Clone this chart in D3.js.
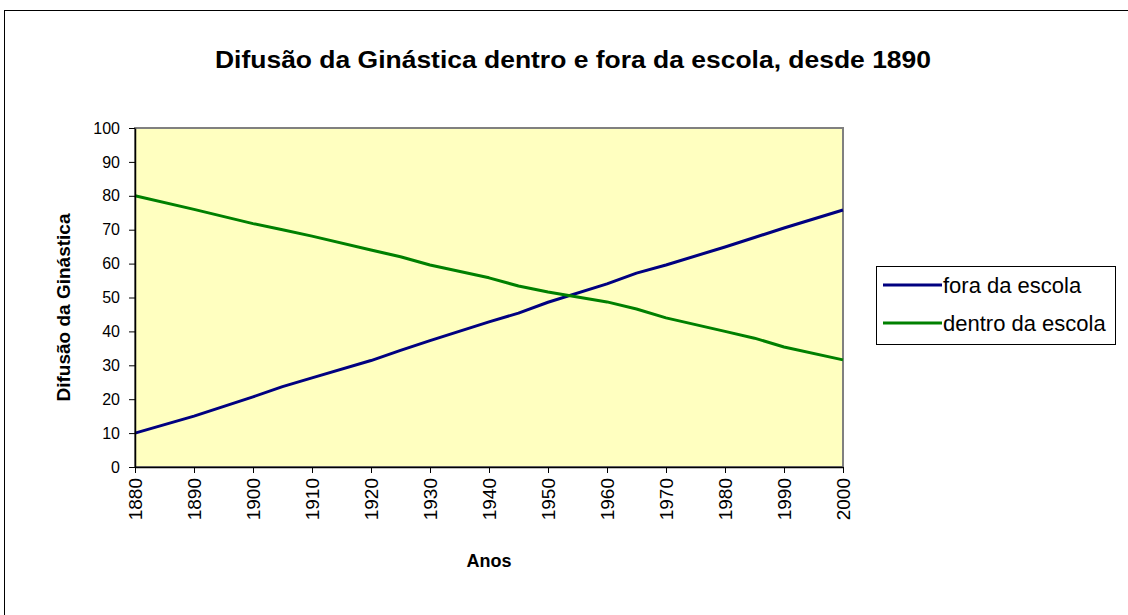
<!DOCTYPE html>
<html>
<head>
<meta charset="utf-8">
<script src="https://cdn.jsdelivr.net/npm/d3@7"></script>
<style>
  body { margin: 0; background: #fff; }
  svg { display: block; font-family: "Liberation Sans", Arial, sans-serif; }
</style>
</head>
<body>
<div id="chart"></div>
<script>
// Data
const years = [1880, 1890, 1900, 1905, 1910, 1920, 1925, 1930, 1940, 1945, 1950, 1960, 1965, 1970, 1980, 1985, 1990, 2000];
const foraDaEscola = [10, 15, 20.7, 23.7, 26.3, 31.4, 34.4, 37.3, 42.8, 45.4, 48.6, 54, 57.2, 59.6, 64.9, 67.7, 70.5, 75.8];
const dentroDaEscola = [80, 76, 71.8, 70, 68.1, 64, 62, 59.6, 55.8, 53.4, 51.6, 48.7, 46.6, 44, 40, 38, 35.4, 31.6];
const xTicks = [1880, 1890, 1900, 1910, 1920, 1930, 1940, 1950, 1960, 1970, 1980, 1990, 2000];
const yTicks = [0, 10, 20, 30, 40, 50, 60, 70, 80, 90, 100];

const SERIES = [
  { name: "fora da escola", values: foraDaEscola, color: "#000080" },
  { name: "dentro da escola", values: dentroDaEscola, color: "#008000" },
];

const W = 1128, H = 615;
const plot = { left: 135, right: 843, top: 128, bottom: 467 };
const FONT = "Liberation Sans, Arial, sans-serif";

const svg = d3.select("#chart").append("svg").attr("width", W).attr("height", H);

// outer chart border
svg.append("rect")
  .attr("x", 4.5).attr("y", 10.5)
  .attr("width", W + 10).attr("height", H + 10)
  .attr("fill", "#fff").attr("stroke", "#000").attr("stroke-width", 1);

const x = d3.scaleLinear().domain([1880, 2000]).range([plot.left, plot.right]);
const y = d3.scaleLinear().domain([0, 100]).range([plot.bottom, plot.top]);

// plot area
svg.append("rect")
  .attr("x", plot.left).attr("y", plot.top)
  .attr("width", plot.right - plot.left).attr("height", plot.bottom - plot.top)
  .attr("fill", "#ffffc0")
  .attr("stroke", "#808080").attr("stroke-width", 2);

// title
svg.append("text")
  .attr("x", 215).attr("y", 68)
  .attr("textLength", 716).attr("lengthAdjust", "spacingAndGlyphs")
  .style("font-size", "24px").style("font-weight", "bold")
  .text("Difusão da Ginástica dentro e fora da escola, desde 1890");

// lines
const line = d3.line()
  .x((d, i) => x(years[i]))
  .y((d) => y(d));

SERIES.forEach((s) => {
  svg.append("path")
    .datum(s.values)
    .attr("fill", "none")
    .attr("stroke", s.color)
    .attr("stroke-width", 3)
    .attr("stroke-linejoin", "round")
    .attr("d", line);
});

// y axis
const yAxis = svg.append("g")
  .attr("transform", `translate(${plot.left},0)`)
  .call(d3.axisLeft(y).tickValues(yTicks).tickSize(6).tickPadding(9).tickSizeOuter(0));
yAxis.select(".domain").attr("stroke", "#000").attr("stroke-width", 1.5);
yAxis.selectAll(".tick line").attr("stroke", "#000");
yAxis.selectAll(".tick text")
  .style("font-size", "16px").style("font-family", FONT)
  .attr("fill", "#000");

// x axis
const xAxis = svg.append("g")
  .attr("transform", `translate(0,${plot.bottom})`)
  .call(d3.axisBottom(x).tickValues(xTicks).tickFormat(d3.format("d")).tickSize(6).tickSizeOuter(0));
xAxis.select(".domain").attr("stroke", "#000").attr("stroke-width", 1.5);
xAxis.selectAll(".tick line").attr("stroke", "#000");
xAxis.selectAll(".tick text")
  .style("font-size", "19px").style("font-family", FONT)
  .attr("fill", "#000")
  .attr("transform", "rotate(-90)")
  .attr("text-anchor", "end")
  .attr("dy", "0.35em")
  .attr("x", -11)
  .attr("y", 0);

// axis titles
svg.append("text")
  .attr("x", 489).attr("y", 567)
  .attr("text-anchor", "middle")
  .style("font-size", "18px").style("font-weight", "bold")
  .text("Anos");

svg.append("text")
  .attr("transform", `translate(70,${(plot.top + plot.bottom) / 2 + 10}) rotate(-90)`)
  .attr("text-anchor", "middle")
  .style("font-size", "19px").style("font-weight", "bold")
  .text("Difusão da Ginástica");

// legend
const legend = svg.append("g").attr("transform", "translate(876,266)");
legend.append("rect")
  .attr("x", 0.5).attr("y", 0.5).attr("width", 239).attr("height", 78)
  .attr("fill", "#fff").attr("stroke", "#000").attr("stroke-width", 1);

SERIES.forEach((s, i) => {
  const gy = 19 + i * 38;
  legend.append("line")
    .attr("x1", 7).attr("x2", 66).attr("y1", gy).attr("y2", gy)
    .attr("stroke", s.color).attr("stroke-width", 3);
  legend.append("text")
    .attr("x", 67).attr("y", gy).attr("dy", "0.35em")
    .style("font-size", "22px")
    .text(s.name);
});
</script>
</body>
</html>
